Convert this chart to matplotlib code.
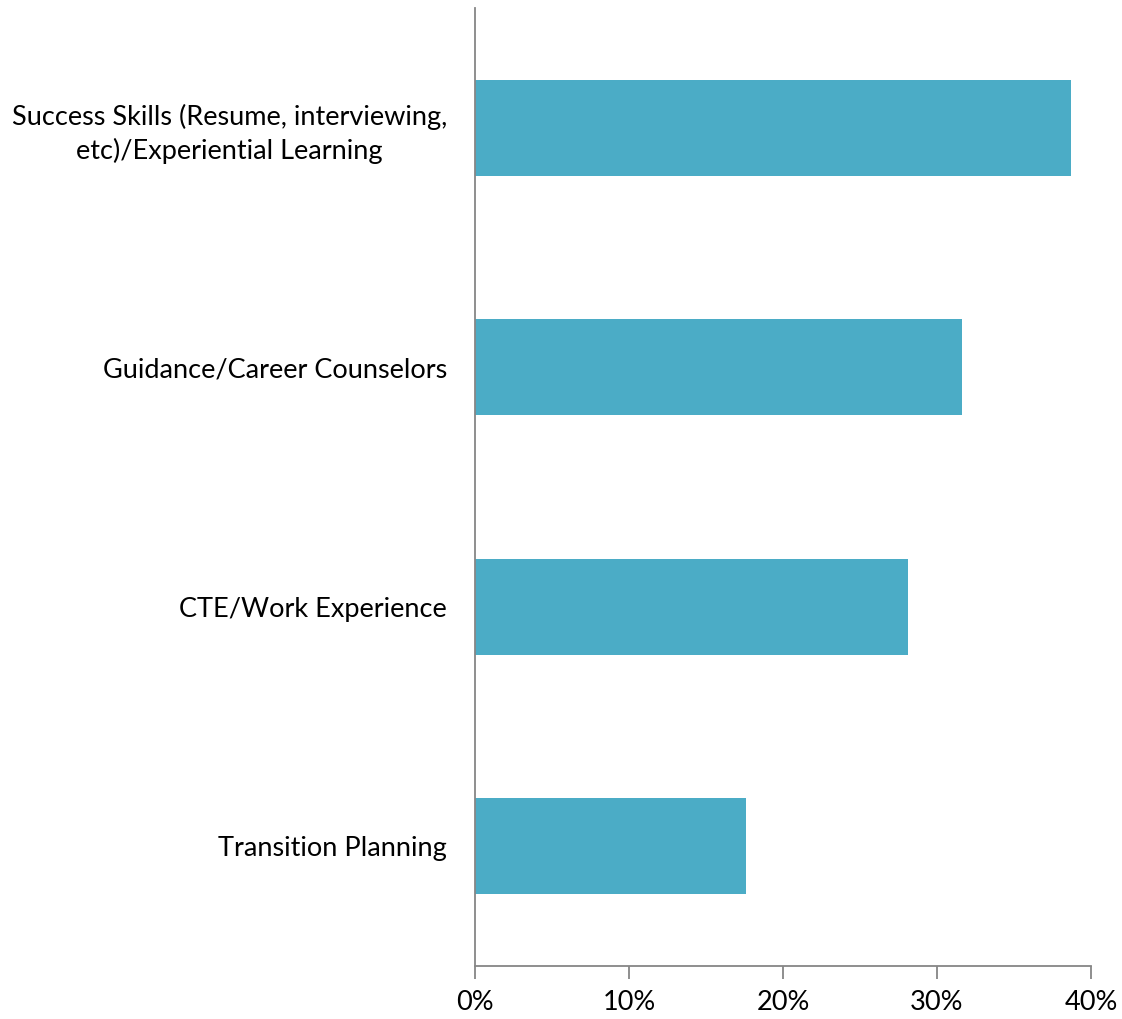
import matplotlib
matplotlib.use("Agg")
import matplotlib.pyplot as plt
from matplotlib.ticker import FuncFormatter

categories = ["Success Skills (Resume, interviewing,\netc)/Experiential Learning",
              "Guidance/Career Counselors",
              "CTE/Work Experience",
              "Transition Planning"]
values = [0.387, 0.316, 0.281, 0.176]
xticks = [0, 0.1, 0.2, 0.3, 0.4]

plt.rcParams['font.family'] = ['Lato', 'DejaVu Sans']

fig = plt.figure(figsize=(11.22, 10.19), dpi=100)
ax = fig.add_axes([475/1122, 1 - 966/1019, (1091-475)/1122, (966-8)/1019])

ypos = list(range(len(categories)))
ax.barh(ypos, values, height=0.4, color="#4BACC6")
ax.set_ylim(len(categories) - 0.5, -0.5)
ax.set_xlim(0, 0.4)
ax.set_yticks(ypos)
ax.set_yticklabels(categories, fontsize=19.5, ha='right', multialignment='center',
                   linespacing=1.38)
ax.tick_params(axis='y', length=0, pad=20)
ax.set_xticks(xticks)
ax.xaxis.set_major_formatter(FuncFormatter(lambda v, p: f"{v*100:.0f}%"))
ax.tick_params(axis='x', length=9, width=1.3, color="#868686", labelsize=19.5, pad=8)
for s in ['top', 'right']:
    ax.spines[s].set_visible(False)
for s in ['left', 'bottom']:
    ax.spines[s].set_color("#868686")
    ax.spines[s].set_linewidth(1.3)

fig.savefig("out.png", dpi=100, facecolor="white")
